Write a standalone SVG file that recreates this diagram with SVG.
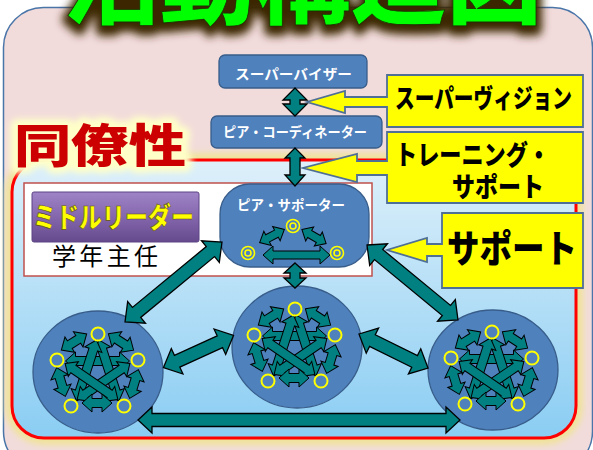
<svg xmlns="http://www.w3.org/2000/svg" width="593" height="450" viewBox="0 0 593 450">
<defs>
  <linearGradient id="gInner" x1="0" y1="0" x2="0" y2="1">
    <stop offset="0" stop-color="#def0fa"/>
    <stop offset="1" stop-color="#8acdf3"/>
  </linearGradient>
  <linearGradient id="gPurple" x1="0" y1="0" x2="0" y2="1">
    <stop offset="0" stop-color="#a084c8"/>
    <stop offset="0.5" stop-color="#8366ab"/>
    <stop offset="1" stop-color="#664a8e"/>
  </linearGradient>
  <filter id="blur3" x="-20%" y="-50%" width="140%" height="200%"><feGaussianBlur stdDeviation="3"/></filter>
  <filter id="blur4" x="-20%" y="-80%" width="140%" height="260%"><feGaussianBlur stdDeviation="4"/></filter>
  <path id="star" d="M-32 0 L-22 -9 L-22 -4.5 L22 -4.5 L22 -9 L32 0 L22 9 L22 4.5 L-22 4.5 L-22 9 Z"/>
  <path id="edge" d="M-15 0 L-5 -9 L-5 -4.5 L5 -4.5 L5 -9 L15 0 L5 9 L5 4.5 L-5 4.5 L-5 9 Z"/>
  <path id="edgeS" d="M-14 0 L-5 -8 L-5 -4 L5 -4 L5 -8 L14 0 L5 8 L5 4 L-5 4 L-5 8 Z"/>
  <path id="midArrow" d="M-38.5 0 L-23.5 -14 L-23.5 -6.5 L23.5 -6.5 L23.5 -14 L38.5 0 L23.5 14 L23.5 6.5 L-23.5 6.5 L-23.5 14 Z"/>
  <g id="pent">
    <g class="arr2">
      <use href="#star" transform="translate(-0.5,-11)"/>
      <use href="#star" transform="translate(11,-1.5) rotate(72)"/>
      <use href="#star" transform="translate(-11.5,-1.5) rotate(108)"/>
      <use href="#star" transform="translate(5.5,9.5) rotate(-34.4)"/>
      <use href="#star" transform="translate(-6.5,9.5) rotate(34.4)"/>
      <use href="#edge" transform="translate(23,-30) rotate(33)"/>
      <use href="#edge" transform="translate(36,12) rotate(106.9)"/>
      <use href="#edge" transform="translate(-1,31)"/>
      <use href="#edge" transform="translate(-37,10) rotate(73.1)"/>
      <use href="#edge" transform="translate(-24,-30) rotate(-32.4)"/>
    </g>
    <circle class="ring" cx="0" cy="-38" r="6.5"/>
    <circle class="ring" cx="40" cy="-12" r="6.5"/>
    <circle class="ring" cx="26" cy="34" r="6.5"/>
    <circle class="ring" cx="-27" cy="34" r="6.5"/>
    <circle class="ring" cx="-41" cy="-12" r="6.5"/>
  </g>
</defs>
<style>
  .jp{font-family:"Noto Sans CJK JP","Noto Sans CJK SC",sans-serif;}
  .box{fill:#4f81bd;stroke:#385d8a;stroke-width:1.3}
  .bt{fill:#ffffff;font-size:14px;font-weight:bold}
  .arr{fill:#008080;stroke:#000000;stroke-width:1.3}
  .arr2{fill:#008080;stroke:#000000;stroke-width:1}
  .callout{fill:#ffff00;stroke:#4f6f96;stroke-width:1.8}
  .ct{fill:#000000;font-weight:900}
  .ring{fill:none;stroke:#ffff00;stroke-width:2}
  .team{fill:#4f81bd;stroke:#385d8a;stroke-width:1.3}
</style>

<!-- background frame -->
<rect x="3.5" y="7.5" width="589" height="464" rx="40" fill="#f2dcdb" stroke="#4a75a8" stroke-width="1.5"/>

<!-- title -->
<g id="title" class="jp">
  <text x="64" y="20" font-size="96" font-weight="900" textLength="478" lengthAdjust="spacingAndGlyphs" fill="#3a2600" stroke="#3a2600" stroke-width="12" stroke-linejoin="round" filter="url(#blur4)">活動構造図</text>
  <text x="64" y="16" font-size="96" font-weight="900" textLength="478" lengthAdjust="spacingAndGlyphs" fill="#00ff00" stroke="#1c3000" stroke-width="0.8">活動構造図</text>
</g>

<!-- collegiality area -->
<g id="collegiality-area">
  <rect x="12" y="160" width="564" height="278" rx="32" fill="none" stroke="#efe39a" stroke-width="14" filter="url(#blur3)"/>
  <rect x="12" y="160" width="564" height="278" rx="32" fill="url(#gInner)" stroke="#ff0000" stroke-width="3"/>
</g>
<g id="collegiality-label" class="jp">
  <text x="14" y="162" font-size="46" font-weight="900" textLength="172" lengthAdjust="spacingAndGlyphs" fill="#ffffc8" stroke="#ffffc8" stroke-width="12" stroke-linejoin="round" filter="url(#blur3)">同僚性</text>
  <text x="14" y="162" font-size="46" font-weight="900" textLength="172" lengthAdjust="spacingAndGlyphs" fill="#cc0000">同僚性</text>
</g>

<!-- middle leader frame -->
<g id="middle-leader" class="jp">
  <rect x="24" y="183" width="348" height="93" fill="#ffffff" stroke="#c0504d" stroke-width="1.5"/>
  <rect x="32" y="192" width="167" height="50" rx="2" fill="url(#gPurple)" stroke="#5d4585" stroke-width="1"/>
  <text x="33" y="228" font-size="28" font-weight="900" textLength="161" lengthAdjust="spacingAndGlyphs" fill="#ffff00" stroke="#5a4a20" stroke-width="0.6">ミドルリーダー</text>
  <text x="52" y="265" font-size="24" textLength="106" lengthAdjust="spacing" fill="#000000">学年主任</text>
</g>

<!-- supervisor -->
<g id="supervisor" class="jp">
  <rect class="box" x="219" y="55" width="148" height="33" rx="6"/>
  <text class="bt" x="235" y="78.5" textLength="117" lengthAdjust="spacingAndGlyphs">スーパーバイザー</text>
</g>

<!-- peer coordinator -->
<g id="peer-coordinator" class="jp">
  <rect class="box" x="211" y="116" width="171" height="32" rx="6"/>
  <text class="bt" x="223" y="137" textLength="144" lengthAdjust="spacingAndGlyphs">ピア・コーディネーター</text>
</g>

<!-- peer supporter -->
<g id="peer-supporter" class="jp">
  <rect class="box" x="220" y="184" width="149" height="83" rx="30"/>
  <text class="bt" x="237" y="210" textLength="108" lengthAdjust="spacingAndGlyphs">ピア・サポーター</text>
  <g class="arr2">
    <use href="#edgeS" transform="translate(272,236) rotate(-28)"/>
    <use href="#edgeS" transform="translate(314,236.5) rotate(30)"/>
    <path d="M263 255 L273 246 L273 251 L320 251 L320 246 L330 255 L320 264 L320 259 L273 259 L273 264 Z"/>
  </g>
  <g fill="none" stroke="#ffff00" stroke-width="1.6">
    <circle cx="293" cy="226" r="6.5"/><circle cx="293" cy="226" r="3"/>
    <circle cx="248" cy="253" r="6.5"/><circle cx="248" cy="253" r="3"/>
    <circle cx="337" cy="253" r="6.5"/><circle cx="337" cy="253" r="3"/>
  </g>
</g>

<!-- teams -->
<g id="team-left">
  <ellipse class="team" cx="98" cy="372" rx="65" ry="61"/>
  <use href="#pent" transform="translate(98,372)"/>
</g>
<g id="team-center">
  <ellipse class="team" cx="297" cy="347" rx="65" ry="61"/>
  <use href="#pent" transform="translate(295,347)"/>
</g>
<g id="team-right">
  <ellipse class="team" cx="493" cy="370" rx="65" ry="60"/>
  <use href="#pent" transform="translate(492,370)"/>
</g>

<!-- connectors -->
<g id="connectors" class="arr">
  <path d="M295 88 L307 100 L300 100 L300 104 L307 104 L295 116 L283 104 L290 104 L290 100 L283 100 Z"/>
  <path d="M295 148 L305 158 L300 158 L300 175 L305 175 L295 186 L285 175 L290 175 L290 158 L285 158 Z"/>
  <path d="M295 263 L306 273 L300 273 L300 278 L306 278 L295 288 L284 278 L290 278 L290 273 L284 273 Z"/>
  <path transform="translate(173.5,282) rotate(-39.5)" d="M-62.85 0 L-47.85 -14 L-47.85 -6.5 L47.85 -6.5 L47.85 -14 L62.85 0 L47.85 14 L47.85 6.5 L-47.85 6.5 L-47.85 14 Z"/>
  <path transform="translate(412.5,282.5) rotate(39.5)" d="M-58.95 0 L-43.95 -14 L-43.95 -6.5 L43.95 -6.5 L43.95 -14 L58.95 0 L43.95 14 L43.95 6.5 L-43.95 6.5 L-43.95 14 Z"/>
  <use href="#midArrow" transform="translate(198.5,351.5) rotate(-24.6)"/>
  <use href="#midArrow" transform="translate(393.5,351) rotate(26.2)"/>
  <path d="M138 420 L152 407 L152 413.5 L446 413.5 L446 407 L460 420 L446 433 L446 426.5 L152 426.5 L152 433 Z"/>
</g>

<!-- callouts -->
<g id="callout-supervision" class="jp">
  <path class="callout" d="M387 75 H583 V127 H387 V107 H345 V113 L307 102 L345 91 V97 H387 Z"/>
  <text class="ct" x="395" y="108" font-size="26" textLength="177" lengthAdjust="spacingAndGlyphs">スーパーヴィジョン</text>
</g>
<g id="callout-training" class="jp">
  <path class="callout" d="M387 132 H583 V203 H387 V175 H357 V182 L303 168 L357 154 V161 H387 Z"/>
  <text class="ct" x="395" y="165" font-size="27" textLength="155" lengthAdjust="spacingAndGlyphs">トレーニング・</text>
  <text class="ct" x="452" y="197" font-size="27" textLength="92" lengthAdjust="spacingAndGlyphs">サポート</text>
</g>
<g id="callout-support" class="jp">
  <path class="callout" d="M442 213 H583 V288 H442 V256 H427 V262 L387 250 L427 238 V244 H442 Z"/>
  <text class="ct" x="447" y="262" font-size="38" textLength="130" lengthAdjust="spacingAndGlyphs">サポート</text>
</g>
</svg>
